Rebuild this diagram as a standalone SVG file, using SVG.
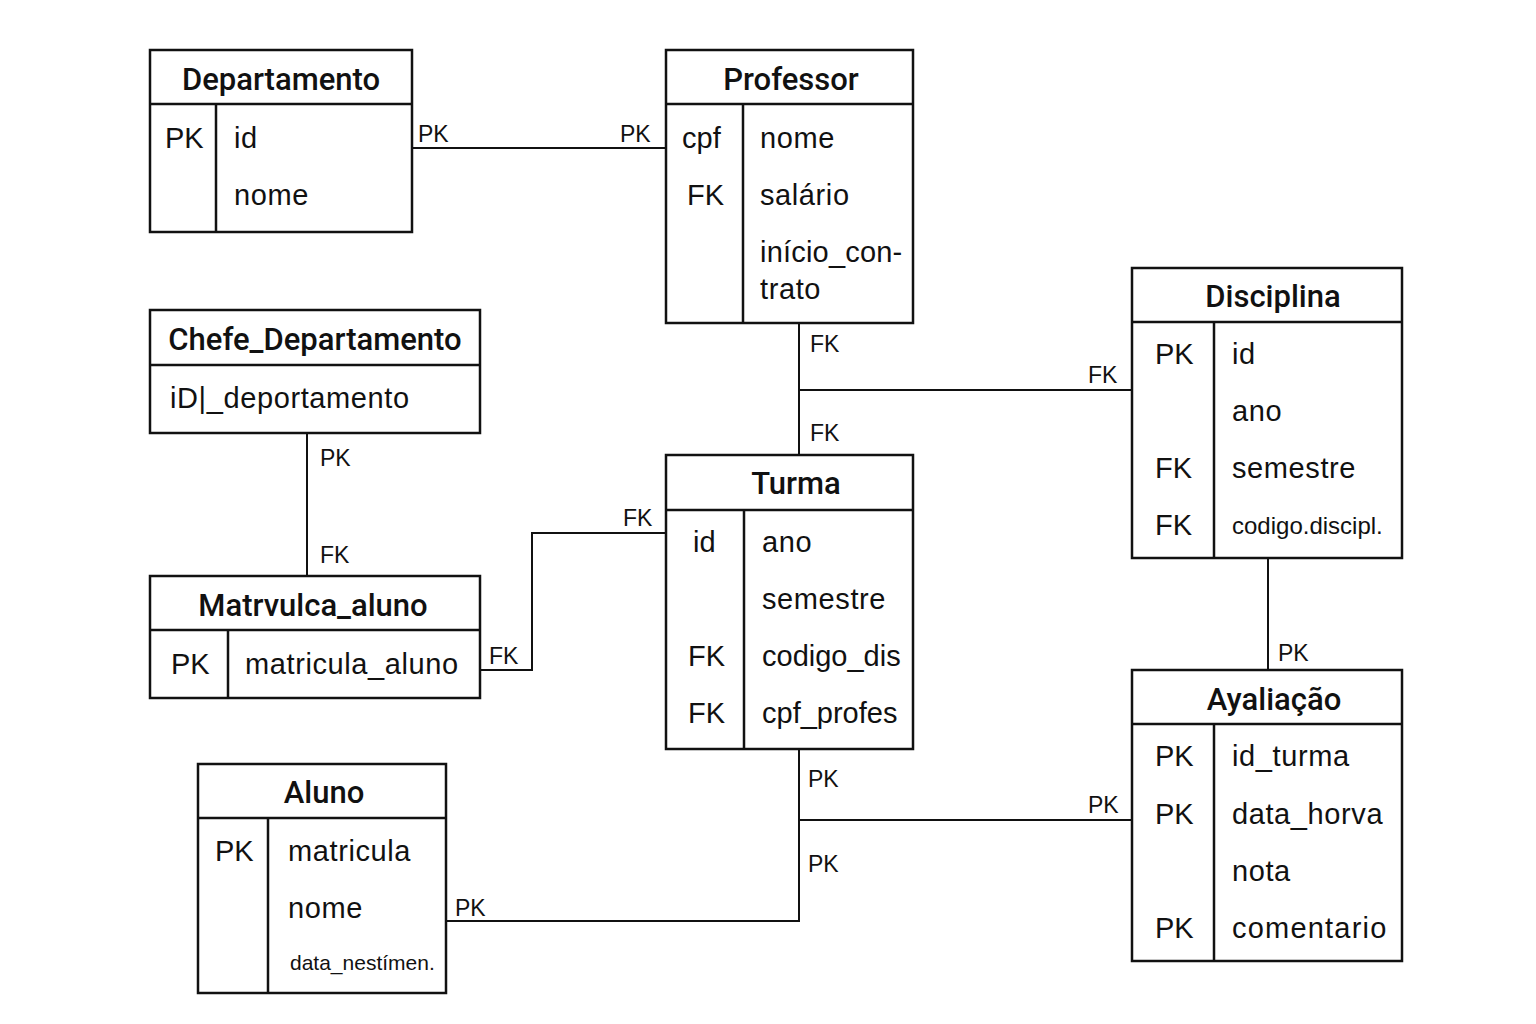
<svg xmlns="http://www.w3.org/2000/svg" width="1536" height="1024" viewBox="0 0 1536 1024">
<style>
.box{fill:#fff;stroke:#111;stroke-width:2.5}
.ln{stroke:#111;stroke-width:2;fill:none}
.title{font-family:Roboto,"Liberation Sans",Arial,sans-serif;font-size:31px;font-weight:500;fill:#111;text-anchor:middle}
.f{font-family:"Liberation Sans",Arial,sans-serif;font-size:29px;fill:#111;letter-spacing:0.6px}
.k{font-family:"Liberation Sans",Arial,sans-serif;font-size:29px;fill:#111}
.sm{font-family:"Liberation Sans",Arial,sans-serif;font-size:23px;fill:#111}
.lbl{font-family:"Liberation Sans",Arial,sans-serif;font-size:23px;fill:#111}
</style>
<rect width="1536" height="1024" fill="#fff"/>
<g id="connectors">
<path class="ln" d="M412 148H666"/>
<path class="ln" d="M307 433V576"/>
<path class="ln" d="M480 670H532V533H666"/>
<path class="ln" d="M799 323V455M799 390H1132"/>
<path class="ln" d="M1268 558V670"/>
<path class="ln" d="M799 749V921H446M799 820H1132"/>
<text class="lbl" x="418" y="142">PK</text>
<text class="lbl" x="620" y="142">PK</text>
<text class="lbl" x="320" y="466">PK</text>
<text class="lbl" x="320" y="563">FK</text>
<text class="lbl" x="489" y="664">FK</text>
<text class="lbl" x="623" y="526">FK</text>
<text class="lbl" x="810" y="352">FK</text>
<text class="lbl" x="810" y="441">FK</text>
<text class="lbl" x="1088" y="383">FK</text>
<text class="lbl" x="1278" y="661">PK</text>
<text class="lbl" x="808" y="787">PK</text>
<text class="lbl" x="808" y="872">PK</text>
<text class="lbl" x="1088" y="813">PK</text>
<text class="lbl" x="455" y="916">PK</text>
</g>
<g id="departamento">
<rect class="box" x="150" y="50" width="262" height="182"/>
<path class="ln" d="M150 104H412M216 104V232" style="stroke-width:2.5"/>
<text class="title" x="281" y="90">Departamento</text>
<text class="k" x="165" y="148">PK</text>
<text class="f" x="234" y="148">id</text>
<text class="f" x="234" y="205">nome</text>
</g>
<g id="professor">
<rect class="box" x="666" y="50" width="247" height="273"/>
<path class="ln" d="M666 104H913M743 104V323" style="stroke-width:2.5"/>
<text class="title" x="791" y="90">Professor</text>
<text class="k" x="682" y="148">cpf</text>
<text class="f" x="760" y="148">nome</text>
<text class="k" x="687" y="205">FK</text>
<text class="f" x="760" y="205">salário</text>
<text class="f" x="760" y="262" style="letter-spacing:0.2px">início_con-</text>
<text class="f" x="760" y="299">trato</text>
</g>
<g id="chefe_departamento">
<rect class="box" x="150" y="310" width="330" height="123"/>
<path class="ln" d="M150 365H480" style="stroke-width:2.5"/>
<text class="title" x="315" y="350">Chefe_Departamento</text>
<text class="f" x="170" y="408">iD<tspan style="font-weight:100">|</tspan>_deportamento</text>
</g>
<g id="matricula_aluno">
<rect class="box" x="150" y="576" width="330" height="122"/>
<path class="ln" d="M150 630H480M228 630V698" style="stroke-width:2.5"/>
<text class="title" x="313" y="616">Matrvulca_aluno</text>
<text class="k" x="171" y="674">PK</text>
<text class="f" x="245" y="674">matricula_aluno</text>
</g>
<g id="turma">
<rect class="box" x="666" y="455" width="247" height="294"/>
<path class="ln" d="M666 510H913M744 510V749" style="stroke-width:2.5"/>
<text class="title" x="796" y="494">Turma</text>
<text class="k" x="693" y="552">id</text>
<text class="f" x="762" y="552">ano</text>
<text class="f" x="762" y="609">semestre</text>
<text class="k" x="688" y="666">FK</text>
<text class="f" x="762" y="666" style="letter-spacing:0">codigo_dis</text>
<text class="k" x="688" y="723">FK</text>
<text class="f" x="762" y="723" style="letter-spacing:0">cpf_profes</text>
</g>
<g id="disciplina">
<rect class="box" x="1132" y="268" width="270" height="290"/>
<path class="ln" d="M1132 322H1402M1214 322V558" style="stroke-width:2.5"/>
<text class="title" x="1273" y="307">Disciplina</text>
<text class="k" x="1155" y="364">PK</text>
<text class="f" x="1232" y="364">id</text>
<text class="f" x="1232" y="421">ano</text>
<text class="k" x="1155" y="478">FK</text>
<text class="f" x="1232" y="478">semestre</text>
<text class="k" x="1155" y="535">FK</text>
<text class="sm" x="1232" y="534" style="font-size:24px">codigo.discipl.</text>
</g>
<g id="avaliacao">
<rect class="box" x="1132" y="670" width="270" height="291"/>
<path class="ln" d="M1132 724H1402M1214 724V961" style="stroke-width:2.5"/>
<text class="title" x="1274" y="710">Ayaliação</text>
<text class="k" x="1155" y="766">PK</text>
<text class="f" x="1232" y="766">id_turma</text>
<text class="k" x="1155" y="824">PK</text>
<text class="f" x="1232" y="824">data_horva</text>
<text class="f" x="1232" y="881">nota</text>
<text class="k" x="1155" y="938">PK</text>
<text class="f" x="1232" y="938" style="letter-spacing:1.2px">comentario</text>
</g>
<g id="aluno">
<rect class="box" x="198" y="764" width="248" height="229"/>
<path class="ln" d="M198 818H446M268 818V993" style="stroke-width:2.5"/>
<text class="title" x="324" y="803">Aluno</text>
<text class="k" x="215" y="861">PK</text>
<text class="f" x="288" y="861">matricula</text>
<text class="f" x="288" y="918">nome</text>
<text class="sm" x="290" y="970" style="font-size:21px">data_nestímen.</text>
</g>
</svg>
